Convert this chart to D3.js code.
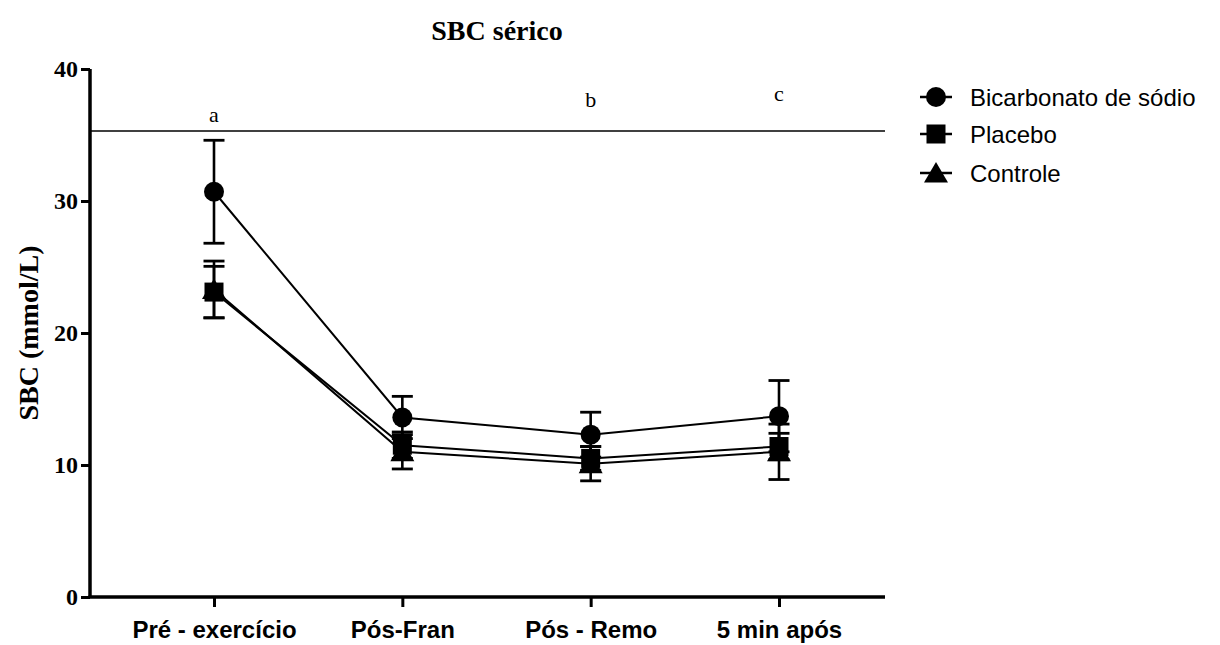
<!DOCTYPE html>
<html>
<head>
<meta charset="utf-8">
<script src="https://cdn.jsdelivr.net/npm/d3@7"></script>
<style>
  html, body { margin: 0; padding: 0; background: #fff; }
  svg { display: block; }
</style>
</head>
<body>
<svg id="chart" width="1220" height="645"></svg>
<script>
// Time points and group summaries (mean ± SD, mmol/L)
const timepoints = ["Pré - exercício", "Pós-Fran", "Pós - Remo", "5 min após"];
const groups = ["Bicarbonato de sódio", "Placebo", "Controle"];
const bicarbMean = [30.7, 13.6, 12.3, 13.7];
const bicarbSD   = [3.9, 1.6, 1.7, 2.7];
const placeboMean = [23.1, 11.5, 10.5, 11.4];
const placeboSD   = [1.95, 1.0, 0.9, 1.0];
const controleMean = [23.3, 11.0, 10.1, 11.0];
const controleSD   = [2.15, 1.3, 1.3, 2.1];
const yTicks = [0, 10, 20, 30, 40];
const letters = [{t: 0, label: "a", y: 36.0}, {t: 2, label: "b", y: 37.1}, {t: 3, label: "c", y: 37.6}];
const sigLineValue = 35.3;

const svg = d3.select("#chart");
const plotLeft = 90, plotRight = 885, plotTop = 69, plotBottom = 597;

const y = d3.scaleLinear().domain([0, 40]).range([plotBottom, plotTop]);
const x = d3.scalePoint().domain(timepoints).range([214, 779]);

const serif = "'Liberation Serif', 'Times New Roman', serif";
const sans = "'Liberation Sans', Arial, sans-serif";

// title
svg.append("text").attr("x", 497).attr("y", 40)
  .attr("text-anchor", "middle")
  .style("font-family", serif)
  .style("font-weight", "bold").style("font-size", "28px")
  .text("SBC sérico");

// y axis
const yAxis = svg.append("g").attr("transform", `translate(${plotLeft},0)`)
  .call(d3.axisLeft(y).tickValues(yTicks).tickSize(9).tickPadding(3).tickFormat(d3.format("d")));
yAxis.select(".domain").attr("d", `M0,${plotTop}V${plotBottom}`).attr("stroke", "#000").attr("stroke-width", 3.5);
yAxis.selectAll(".tick line").attr("stroke", "#000").attr("stroke-width", 3);
yAxis.selectAll(".tick text")
  .style("font-family", serif)
  .style("font-weight", "bold").style("font-size", "24px").attr("fill", "#000");

// x axis
const xAxis = svg.append("g").attr("transform", `translate(0,${plotBottom})`)
  .call(d3.axisBottom(x).tickSize(10).tickPadding(8));
xAxis.select(".domain").attr("d", `M${plotLeft - 1.5},0H${plotRight}`).attr("stroke", "#000").attr("stroke-width", 3.5);
xAxis.selectAll(".tick line").attr("stroke", "#000").attr("stroke-width", 3);
xAxis.selectAll(".tick text")
  .attr("dy", "0.95em")
  .style("font-family", sans)
  .style("font-weight", "bold").style("font-size", "24px").attr("fill", "#000");

// y label
svg.append("text")
  .attr("transform", `translate(38,${(plotTop + plotBottom) / 2}) rotate(-90)`)
  .attr("text-anchor", "middle")
  .style("font-family", serif)
  .style("font-weight", "bold").style("font-size", "28px")
  .text("SBC (mmol/L)");

// significance line and letters
svg.append("line").attr("x1", plotLeft).attr("x2", plotRight)
  .attr("y1", y(sigLineValue)).attr("y2", y(sigLineValue))
  .attr("stroke", "#000").attr("stroke-width", 1.6);
svg.selectAll("text.letter").data(letters).enter().append("text")
  .attr("class", "letter")
  .attr("x", d => x(timepoints[d.t])).attr("y", d => y(d.y))
  .attr("text-anchor", "middle")
  .style("font-family", serif)
  .style("font-size", "22px")
  .text(d => d.label);

const series = [
  {name: groups[0], mean: bicarbMean, sd: bicarbSD, shape: "circle"},
  {name: groups[1], mean: placeboMean, sd: placeboSD, shape: "square"},
  {name: groups[2], mean: controleMean, sd: controleSD, shape: "triangle"}
];

function marker(sel, shape) {
  if (shape === "circle") {
    sel.append("circle").attr("r", 10).attr("fill", "#000");
  } else if (shape === "square") {
    sel.append("rect").attr("x", -9.5).attr("y", -9.5).attr("width", 19).attr("height", 19).attr("fill", "#000");
  } else {
    sel.append("path").attr("d", "M0,-11L12,9.5L-12,9.5Z").attr("fill", "#000");
  }
}

const line = d3.line().x((d, i) => x(timepoints[i])).y(d => y(d));

// error bars (drawn beneath the markers, controle first)
const capW = 10.5;
[...series].reverse().forEach(s => {
  const g = svg.append("g");
  s.mean.forEach((m, i) => {
    const cx = x(timepoints[i]);
    const lo = y(m - s.sd[i]), hi = y(m + s.sd[i]);
    g.append("line").attr("x1", cx).attr("x2", cx).attr("y1", lo).attr("y2", hi)
      .attr("stroke", "#000").attr("stroke-width", 2.6);
    [lo, hi].forEach(v => g.append("line").attr("x1", cx - capW).attr("x2", cx + capW)
      .attr("y1", v).attr("y2", v).attr("stroke", "#000").attr("stroke-width", 2.8));
  });
});

// connecting lines
[...series].reverse().forEach(s => {
  svg.append("path").datum(s.mean).attr("d", line)
    .attr("fill", "none").attr("stroke", "#000").attr("stroke-width", 2);
});

// markers
[...series].reverse().forEach(s => {
  s.mean.forEach((m, i) => {
    const g = svg.append("g").attr("transform", `translate(${x(timepoints[i])},${y(m)})`);
    marker(g, s.shape);
  });
});

// legend
const legY = [97, 134, 173];
series.forEach((s, i) => {
  const g = svg.append("g").attr("transform", `translate(936,${legY[i]})`);
  g.append("line").attr("x1", -16).attr("x2", 16).attr("stroke", "#000").attr("stroke-width", 2.5);
  marker(g, s.shape);
  g.append("text").attr("x", 34).attr("y", 0).attr("dy", "0.36em")
    .style("font-family", sans)
    .style("font-size", "24px").text(s.name);
});
</script>
</body>
</html>
